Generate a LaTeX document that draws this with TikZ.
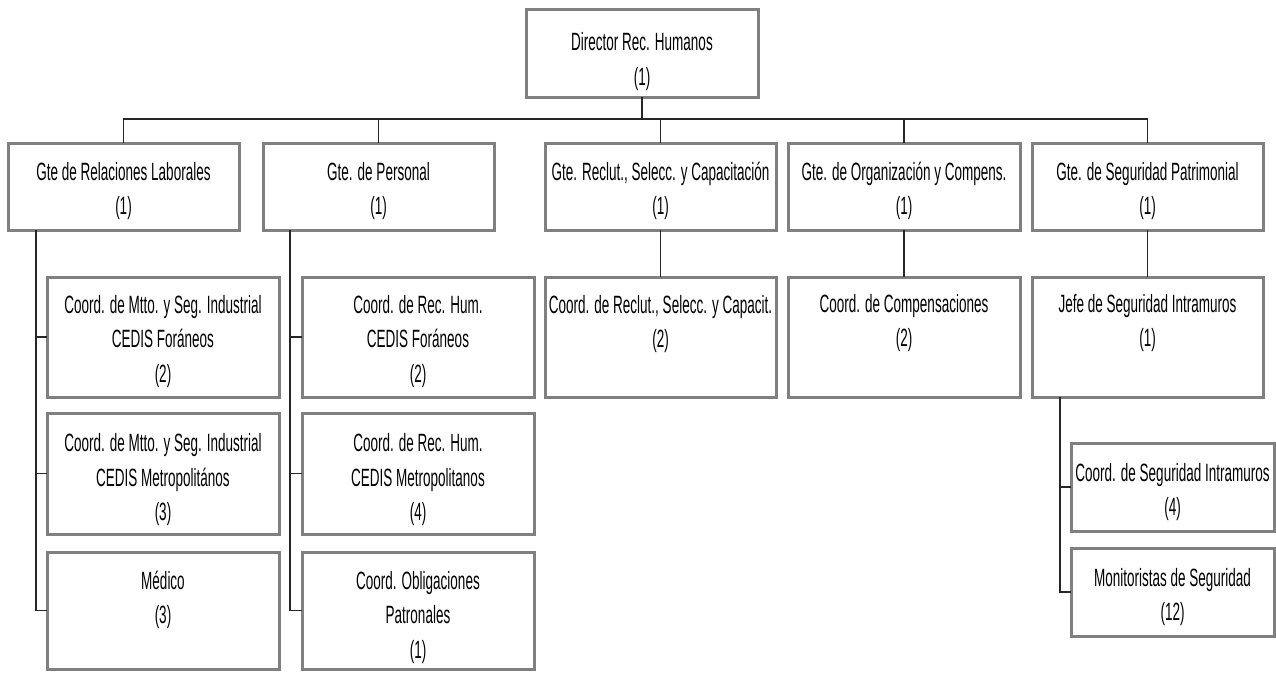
\documentclass[tikz,border=0pt]{standalone}
\usepackage{fontspec}
\setmainfont{Liberation Sans}[FakeStretch=0.54]
\usetikzlibrary{fit}
\tikzset{
  ob/.style={draw={rgb,255:red,128;green,128;blue,128}, line width=3pt, inner sep=0pt, outer sep=0pt, fill=white},
  ot/.style={font=\fontsize{25}{34.5}\selectfont, align=center, inner sep=0pt, text=black},
  con/.style={draw=black!85, line width=1.4pt},
}
\newcommand\obox[7]{%
  \node[ob, fit={(#2,#3) (#4,#5)}] (#1) {};
  \node[ot, anchor=north] (#1-t) at ([yshift=-#6pt]#1.north) {\rule{0pt}{19.5pt}#7};}
\begin{document}
\begin{tikzpicture}[x=1pt,y=-1pt]
\useasboundingbox (0,0) rectangle (1276,672);
% level 0
\obox{dir}{526}{9}{758}{97}{22}{Director Rec. Humanos\\(1)}
% level 1
\obox{rel}{8}{143}{239}{230}{17.5}{Gte de Relaciones Laborales\\(1)}
\obox{per}{263}{143}{494}{230}{17.5}{Gte. de Personal\\(1)}
\obox{rec}{545}{143}{776}{230}{17.5}{Gte. Reclut., Selecc. y Capacitación\\(1)}
\obox{org}{788}{143}{1020}{230}{17.5}{Gte. de Organización y Compens.\\(1)}
\obox{seg}{1032}{143}{1263}{230}{17.5}{Gte. de Seguridad Patrimonial\\(1)}
% level 2
\obox{rel1}{47}{277}{279}{397}{16.5}{Coord. de Mtto. y Seg. Industrial\\CEDIS Foráneos\\(2)}
\obox{per1}{302}{277}{534}{397}{16.5}{Coord. de Rec. Hum.\\CEDIS Foráneos\\(2)}
\obox{rec1}{545}{277}{776}{397}{16.5}{Coord. de Reclut., Selecc. y Capacit.\\(2)}
\obox{org1}{788}{277}{1020}{397}{15.5}{Coord. de Compensaciones\\(2)}
\obox{seg1}{1032}{277}{1263}{397}{15.5}{Jefe de Seguridad Intramuros\\(1)}
% level 3
\obox{rel2}{47}{413}{279}{534}{19}{Coord. de Mtto. y Seg. Industrial\\CEDIS Metropolitános\\(3)}
\obox{per2}{302}{413}{534}{534}{19}{Coord. de Rec. Hum.\\CEDIS Metropolitanos\\(4)}
\obox{seg2}{1071}{443}{1274}{531}{18.5}{Coord. de Seguridad Intramuros\\(4)}
% level 4
\obox{rel3}{47}{552}{279}{669}{17.5}{Médico\\(3)}
\obox{per3}{302}{552}{534}{669}{17.5}{Coord. Obligaciones\\Patronales\\(1)}
\obox{seg3}{1071}{548}{1274}{636}{18.5}{Monitoristas de Seguridad\\(12)}
% connectors
\coordinate (bus) at (642,119);
\draw[con] (dir.south) -- (bus);
\draw[con] (rel.north) |- (seg.north |- bus) -- (seg.north);
\draw[con] (per.north) -- (per.north |- bus);
\draw[con] (rec.north) -- (rec.north |- bus);
\draw[con] (org.north) -- (org.north |- bus);
\draw[con] (rec.south) -- (rec1.north);
\draw[con] (org.south) -- (org1.north);
\draw[con] (seg.south) -- (seg1.north);
\foreach \c in {rel1,rel2,rel3} \draw[con] ([xshift=28pt]rel.south west) |- (\c.west);
\foreach \c in {per1,per2,per3} \draw[con] ([xshift=27pt]per.south west) |- (\c.west);
\foreach \c in {seg2,seg3} \draw[con] ([xshift=28pt]seg1.south west) |- (\c.west);
\end{tikzpicture}
\end{document}
